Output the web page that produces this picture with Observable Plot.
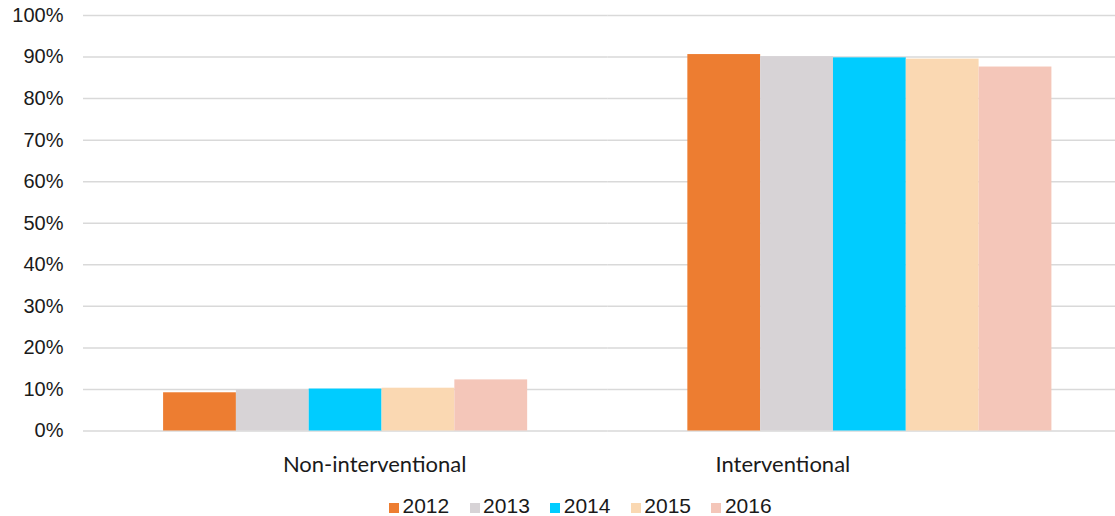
<!DOCTYPE html>
<html>
<head>
<meta charset="utf-8">
<script src="https://cdn.jsdelivr.net/npm/d3@7"></script>
<script src="https://cdn.jsdelivr.net/npm/@observablehq/plot@0.6"></script>
<style>
  html, body { margin: 0; padding: 0; background: #fff; }
  #chart svg { display: block; }
  #legend { height: 26px; padding-top: 3px; padding-left: 389px; font-family: "Liberation Sans", Arial, sans-serif; font-size: 21px; line-height: 26px; color: #1a1a1a; white-space: nowrap; }
  #legend .item { display: inline-block; margin-right: 20.4px; }
  #legend .sw { display: inline-block; width: 10px; height: 10px; margin-right: 3.5px; vertical-align: baseline; }
</style>
</head>
<body>
<div id="chart"></div>
<div id="legend"></div>
<script>
const categories = ["Non-interventional", "Interventional"];
const years = ["2012", "2013", "2014", "2015", "2016"];
const nonInterventional = [9.2, 9.8, 10.1, 10.3, 12.3];
const interventional = [90.6, 90.1, 89.8, 89.5, 87.6];
const yTicks = [0, 10, 20, 30, 40, 50, 60, 70, 80, 90, 100];
const colors = ["#ED7D31", "#D7D3D6", "#00CCFF", "#FAD8B2", "#F4C6B9"];

const data = [];
years.forEach((y, i) => {
  data.push({category: categories[0], year: y, value: nonInterventional[i]});
  data.push({category: categories[1], year: y, value: interventional[i]});
});

const chart = Plot.plot({
  width: 1115,
  height: 490,
  marginLeft: 83,
  marginRight: 0,
  marginTop: 15,
  marginBottom: 59.5,
  style: {fontFamily: "'Liberation Sans', Arial, sans-serif", color: "#1a1a1a", background: "#fff"},
  fx: {domain: categories, range: [83, 1131.5], padding: 0, round: false, label: null},
  x: {domain: years, paddingInner: 0, paddingOuter: 1.1, round: false, axis: null},
  y: {domain: [0, 100], label: null, axis: null},
  color: {domain: years, range: colors},
  marks: [
    Plot.gridY(yTicks, {stroke: "#d9d9d9", strokeOpacity: 1, strokeWidth: 1.5}),
    Plot.barY(data, {fx: "category", x: "year", y: "value", fill: "year"}),
    Plot.axisY(yTicks, {tickSize: 0, tickPadding: 20, fontSize: 20, tickFormat: d => d + "%", label: null}),
    Plot.axisFx({anchor: "bottom", ticks: [categories[0]], tickSize: 0, tickPadding: 25, fontSize: 22, fontFamily: "Lato, sans-serif", dx: 29, label: null}),
    Plot.axisFx({anchor: "bottom", ticks: [categories[1]], tickSize: 0, tickPadding: 25, fontSize: 22, fontFamily: "Lato, sans-serif", dx: -87, label: null})
  ]
});
document.getElementById("chart").appendChild(chart);

const legend = document.getElementById("legend");
years.forEach((y, i) => {
  const item = document.createElement("span");
  item.className = "item";
  const sw = document.createElement("span");
  sw.className = "sw";
  sw.style.background = colors[i];
  item.appendChild(sw);
  item.appendChild(document.createTextNode(y));
  legend.appendChild(item);
});
</script>
</body>
</html>
